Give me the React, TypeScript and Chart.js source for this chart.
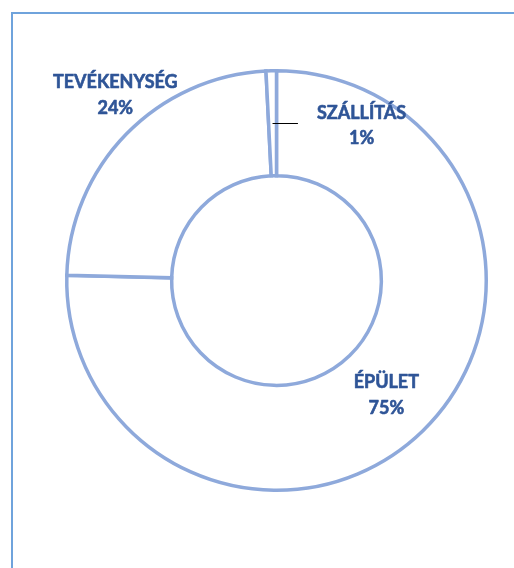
import React, { useEffect, useRef } from "react";
import { Chart, registerables } from "chart.js";

Chart.register(...registerables);

const categories = ["ÉPÜLET", "TEVÉKENYSÉG", "SZÁLLÍTÁS"];
const values = [75.4, 23.8, 0.8];
// label offsets (px) from the reference point of each slice
const labelOffsets = [
  [0, 2],
  [16, -13],
  [89, 2],
];
const labelRadiusFactor = [0.75, 1.18, 0.75];

const TEXT_COLOR = "#2F5597";
const RING_COLOR = "#8EA9DB";
const FONT = "bold 18px Lato, 'Liberation Sans', sans-serif";

const labelPlugin = {
  id: "excelLabels",
  afterDatasetsDraw(chart: any) {
    const ctx = chart.ctx as CanvasRenderingContext2D;
    const meta = chart.getDatasetMeta(0);
    const total = values.reduce((a, b) => a + b, 0);
    ctx.save();
    ctx.font = FONT;
    ctx.fillStyle = TEXT_COLOR;
    ctx.strokeStyle = TEXT_COLOR;
    ctx.lineWidth = 0.6;
    ctx.lineJoin = "round";
    ctx.textAlign = "center";
    ctx.textBaseline = "middle";
    meta.data.forEach((arc: any, i: number) => {
      const { x, y, startAngle, endAngle, outerRadius } = arc.getProps(
        ["x", "y", "startAngle", "endAngle", "outerRadius"],
        true
      );
      const mid = (startAngle + endAngle) / 2;
      const r = outerRadius * labelRadiusFactor[i];
      const px = x + Math.cos(mid) * r;
      const py = y + Math.sin(mid) * r;
      const cx = px + labelOffsets[i][0];
      const cy = py + labelOffsets[i][1];
      const pct = Math.round((values[i] / total) * 100) + "%";
      ctx.fillText(categories[i], cx, cy - 12.5);
      ctx.strokeText(categories[i], cx, cy - 12.5);
      ctx.fillText(pct, cx, cy + 13);
      ctx.strokeText(pct, cx, cy + 13);
      if (i === 2) {
        const w = ctx.measureText(categories[i]).width;
        ctx.save();
        ctx.strokeStyle = "#000";
        ctx.lineWidth = 1;
        ctx.beginPath();
        const ly = Math.round(py) + 0.5;
        ctx.moveTo(px, ly);
        ctx.lineTo(cx - w / 2 - 19, ly);
        ctx.stroke();
        ctx.restore();
      }
    });
    ctx.restore();
  },
};

const framePlugin = {
  id: "frame",
  beforeDraw(chart: any) {
    const ctx = chart.ctx as CanvasRenderingContext2D;
    ctx.save();
    ctx.fillStyle = "#fff";
    ctx.fillRect(0, 0, chart.width, chart.height);
    ctx.strokeStyle = "#6FA3DC";
    ctx.lineWidth = 2;
    ctx.beginPath();
    ctx.moveTo(12, chart.height + 5);
    ctx.lineTo(12, 13);
    ctx.lineTo(chart.width + 5, 13);
    ctx.stroke();
    ctx.restore();
  },
};

export default function App() {
  const ref = useRef<HTMLCanvasElement>(null);
  useEffect(() => {
    if (!ref.current) return;
    const chart = new Chart(ref.current, {
      type: "doughnut",
      data: {
        labels: categories,
        datasets: [
          {
            data: values,
            backgroundColor: "#FFFFFF",
            borderColor: RING_COLOR,
            borderWidth: 3.5,
            borderJoinStyle: "miter" as any,
          },
        ],
      },
      options: {
        responsive: false,
        animation: false,
        cutout: "50%",
        layout: { padding: { left: 65, right: 26, top: 69, bottom: 76 } },
        plugins: {
          legend: { display: false },
          tooltip: { enabled: false },
        },
      },
      plugins: [framePlugin, labelPlugin],
    });
    return () => chart.destroy();
  }, []);
  return (
    <div style={{ position: "fixed", left: 0, top: 0, width: 514, height: 568 }}>
      <canvas ref={ref} width={514} height={568} style={{ display: "block" }} />
    </div>
  );
}
